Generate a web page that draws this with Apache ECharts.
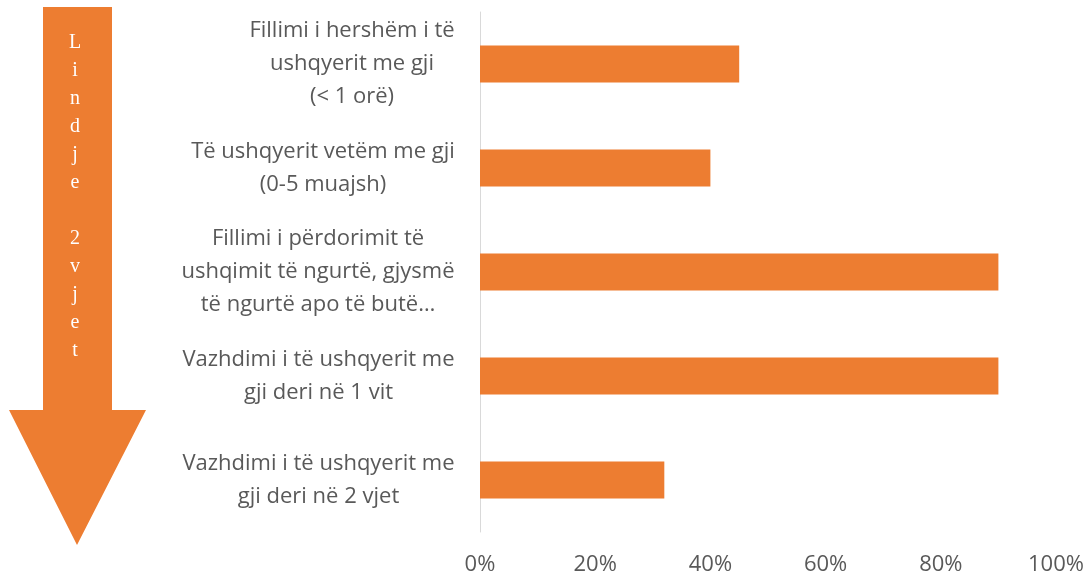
<!DOCTYPE html>
<html>
<head>
<meta charset="utf-8">
<script src="https://cdn.jsdelivr.net/npm/echarts@6/dist/echarts.min.js"></script>
<style>
  html, body { margin: 0; padding: 0; background: #fff; }
  #chart { width: 1088px; height: 579px; }
</style>
</head>
<body>
<div id="chart"></div>
<script>
// Horizontal bar chart: breastfeeding indicators, with a "Lindje -> 2 vjet" arrow on the left.

const categories = [
  'Fillimi i hershëm i të\nushqyerit me gji\n(< 1 orë)',
  'Të ushqyerit vetëm me gji\n(0-5 muajsh)',
  'Fillimi i përdorimit të\nushqimit të ngurtë, gjysmë\ntë ngurtë apo të butë…',
  'Vazhdimi i të ushqyerit me\ngji deri në 1 vit',
  'Vazhdimi i të ushqyerit me\ngji deri në 2 vjet',
];
const values = [45, 40, 90, 90, 32];
const xTicks = [0, 20, 40, 60, 80, 100];
const arrowLetters = ['L', 'i', 'n', 'd', 'j', 'e', '', '2', 'v', 'j', 'e', 't'];

const ORANGE = '#ED7D31';
const TEXT = '#595959';
const FONT = 'Open Sans';
const FONT_SIZE = 22;

// width of the widest line of each label, so lines can be centred inside their block
const ctx = document.createElement('canvas').getContext('2d');
ctx.font = FONT_SIZE + 'px "' + FONT + '"';
const rich = {};
categories.forEach((c, i) => {
  const w = Math.max(...c.split('\n').map((l) => ctx.measureText(l).width));
  rich['c' + i] = {
    width: Math.ceil(w),
    align: 'center',
    fontFamily: FONT,
    fontSize: FONT_SIZE,
    color: TEXT,
    lineHeight: 33,
  };
});

const chart = echarts.init(document.getElementById('chart'));

chart.setOption({
  animation: false,
  grid: { left: 480, right: 32, top: 12, bottom: 47, containLabel: false },
  xAxis: {
    type: 'value',
    min: xTicks[0],
    max: xTicks[xTicks.length - 1],
    interval: xTicks[1] - xTicks[0],
    axisLine: { show: false },
    axisTick: { show: false },
    splitLine: { show: false },
    axisLabel: {
      formatter: '{value}%',
      margin: 22,
      color: TEXT,
      fontFamily: FONT,
      fontSize: FONT_SIZE,
    },
  },
  yAxis: {
    type: 'category',
    inverse: true,
    data: categories,
    axisLine: { show: true, lineStyle: { color: '#d9d9d9', width: 1 } },
    axisTick: { show: false },
    axisLabel: {
      margin: 25,
      formatter: (v, idx) => v.split('\n').map((l) => '{c' + idx + '|' + l + '}').join('\n'),
      rich: rich,
    },
  },
  series: [
    {
      type: 'bar',
      data: values,
      barWidth: 37,
      itemStyle: { color: ORANGE },
    },
  ],
  graphic: [
    {
      type: 'polygon',
      shape: {
        points: [[43, 7], [112, 7], [112, 410], [146, 410], [77, 545], [9, 410], [43, 410]],
      },
      style: { fill: ORANGE },
    },
    {
      type: 'text',
      x: 75,
      y: 197,
      style: {
        text: arrowLetters.join('\n'),
        fill: '#ffffff',
        font: '20px "Liberation Serif"',
        lineHeight: 28,
        align: 'center',
        verticalAlign: 'middle',
      },
    },
  ],
});

window.addEventListener('resize', () => chart.resize());
</script>
</body>
</html>
